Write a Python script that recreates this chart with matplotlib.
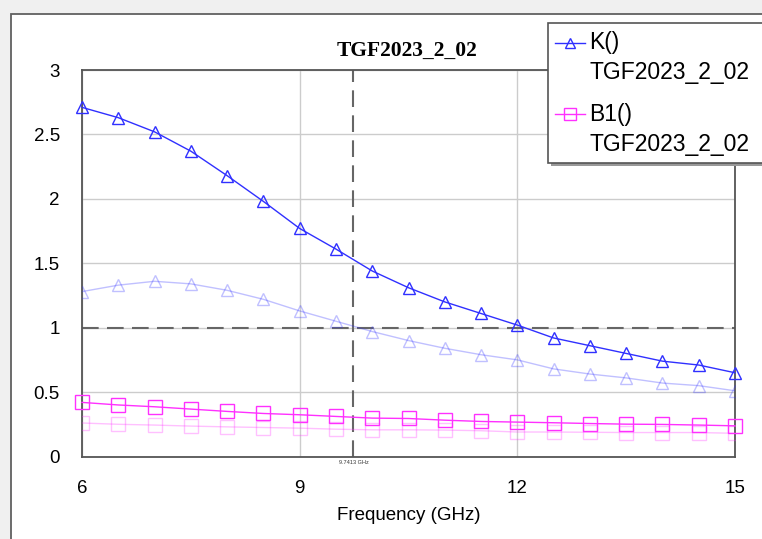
import matplotlib
matplotlib.use("Agg")
import matplotlib.pyplot as plt
from matplotlib.patches import Rectangle
from matplotlib.lines import Line2D

freq = [6.0, 6.5, 7.0, 7.5, 8.0, 8.5, 9.0, 9.5, 10.0, 10.5, 11.0, 11.5, 12.0, 12.5, 13.0, 13.5, 14.0, 14.5, 15.0]
k_main = [2.71, 2.63, 2.52, 2.37, 2.18, 1.98, 1.77, 1.61, 1.44, 1.31, 1.20, 1.11, 1.02, 0.92, 0.86, 0.80, 0.74, 0.71, 0.65]
k_ghost = [1.28, 1.33, 1.36, 1.34, 1.29, 1.22, 1.13, 1.05, 0.97, 0.90, 0.84, 0.79, 0.75, 0.68, 0.64, 0.61, 0.57, 0.55, 0.51]
b1_main = [0.42, 0.40, 0.386, 0.368, 0.35, 0.334, 0.324, 0.311, 0.298, 0.295, 0.282, 0.272, 0.267, 0.262, 0.256, 0.251, 0.249, 0.244, 0.238]
b1_ghost = [0.26, 0.25, 0.244, 0.236, 0.23, 0.225, 0.22, 0.212, 0.207, 0.207, 0.205, 0.20, 0.19, 0.19, 0.188, 0.186, 0.186, 0.186, 0.18]
xticks = [6, 9, 12, 15]
yticks = [0, 0.5, 1, 1.5, 2, 2.5, 3]
ytick_labels = ["0", "0.5", "1", "1.5", "2", "2.5", "3"]
marker_x = 9.7413
marker_y = 1.0
title = "TGF2023_2_02"
legend_names = ["K()", "B1()"]

W, H = 762, 539
fig = plt.figure(figsize=(W / 100, H / 100), dpi=100, facecolor="#f0f0f0")
plt.rcParams["font.family"] = ["Liberation Sans", "DejaVu Sans"]

def fx(px):
    return px / W

def fy(py):
    return 1 - py / H

# white panel with border
fig.add_artist(Rectangle((fx(10.5), fy(545)), fx(800), fy(14) - fy(545), transform=fig.transFigure,
                         facecolor="white", edgecolor="#606060", linewidth=1.3, zorder=0))

ax = fig.add_axes([fx(82), fy(456.5), fx(735) - fx(82), fy(70) - fy(456.5)])
ax.set_facecolor("white")
ax.set_xlim(6, 15)
ax.set_ylim(0, 3)
ax.set_xticks(xticks)
ax.set_yticks(yticks)
ax.set_yticklabels(ytick_labels)
ax.tick_params(length=0, labelsize=13.5, colors="black")
ax.tick_params(axis="y", pad=16)
ax.tick_params(axis="x", pad=17)
for s in ax.spines.values():
    s.set_color("#555555")
    s.set_linewidth(1.3)
ax.grid(True, color="#cccccc", linewidth=1.0)
ax.set_axisbelow(True)
ax.set_xlabel("Frequency (GHz)", fontsize=13.5, labelpad=7)

blue = "#3030ff"
mag = "#ff30ff"
ax.plot(freq, k_ghost, color=blue, alpha=0.3, lw=1.0, marker="^", ms=9, mfc="none", mew=1.0, zorder=3)
ax.plot(freq, b1_ghost, color=mag, alpha=0.3, lw=1.0, marker="s", ms=10.5, mfc="none", mew=1.0, zorder=3)
ax.plot(freq, k_main, color=blue, lw=1.0, marker="^", ms=9, mfc="none", mew=1.0, zorder=4, clip_on=False)
ax.plot(freq, b1_main, color=mag, lw=1.0, marker="s", ms=10.5, mfc="none", mew=1.0, zorder=4, clip_on=False)

ax.axvline(marker_x, color="#666666", lw=1.5, dashes=(8, 4), zorder=2)
ax.axhline(marker_y, color="#666666", lw=1.5, dashes=(8, 4), zorder=2)
ax.text(marker_x, -0.03, f"{marker_x:g} GHz", fontsize=4, ha="center", va="top", color="#333333")

fig.text(fx(407), fy(51), title, fontsize=15.5, fontweight="bold", family=["Liberation Serif"],
         ha="center", va="center")

# legend
fig.add_artist(Rectangle((fx(551), fy(166)), fx(300), fy(26) - fy(166), transform=fig.transFigure,
                         facecolor="#999999", edgecolor="none", zorder=5))
fig.add_artist(Rectangle((fx(548), fy(163)), fx(300), fy(23) - fy(163), transform=fig.transFigure,
                         facecolor="white", edgecolor="#555555", linewidth=1.2, zorder=6))
entries = [(legend_names[0], blue, "^", 7, 43), (legend_names[1], mag, "s", 8.5, 114)]
for name, col, mk, ms, py in entries:
    fig.add_artist(Line2D([fx(555), fx(585)], [fy(py), fy(py)], transform=fig.transFigure, color=col,
                          lw=1.0, zorder=7))
    fig.add_artist(Line2D([fx(570)], [fy(py)], transform=fig.transFigure, color=col, marker=mk, ms=ms,
                          mfc="none", mew=1.0, zorder=7))
    fig.text(fx(589), fy(py), name, fontsize=16.5, ha="left", va="center", zorder=8)
    fig.text(fx(589), fy(py + 30), title, fontsize=16.5, ha="left", va="center", zorder=8)

fig.savefig("out.png", dpi=100, facecolor=fig.get_facecolor())
